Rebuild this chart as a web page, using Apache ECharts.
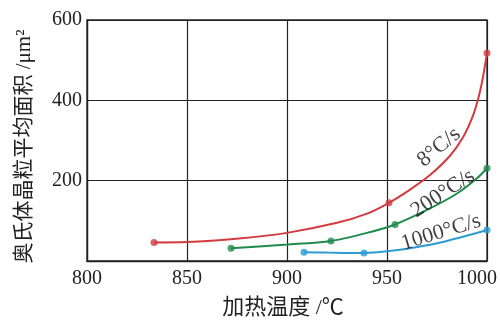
<!DOCTYPE html>
<html>
<head>
<meta charset="utf-8">
<script src="https://cdn.jsdelivr.net/npm/echarts@6/dist/echarts.min.js"></script>
<style>html,body{margin:0;padding:0;background:#fff}#c{width:500px;height:324px}</style>
</head>
<body>
<div id="c"></div>
<script>
// Marked data points (temperature °C, area μm²)
const redTemps = [833.5, 951, 1000];
const redVals = [46, 145, 518];
const greenTemps = [872, 922, 954, 1000];
const greenVals = [32, 50, 91, 231];
const blueTemps = [908.5, 938.5, 1000];
const blueVals = [22, 20, 77];

// Fitted curves
const redCurveT = [833.5, 850, 876, 900, 925, 940, 951, 961, 971.5, 981.5, 988, 993, 996, 998, 1000];
const redCurveV = [46, 47, 56, 70, 95, 118, 145, 176, 214, 262, 308, 362, 412, 458, 518];
const greenCurveT = [872, 900, 922, 940, 954, 971.5, 985, 995, 1000];
const greenCurveV = [32, 41, 50, 70, 91, 131, 168, 206, 231];
const blueCurveT = [908.5, 920, 938.5, 950, 963, 980, 1000];
const blueCurveV = [22, 21, 20, 24, 33, 50, 77];

// Curve labels
const labelTexts = ['8°C/s', '200°C/s', '1000°C/s'];
const labelTemps = [976, 978, 977];
const labelVals = [283, 168, 71];
const labelAngles = [40, 33, 17];

// Axis ticks
const xTicks = [800, 850, 900, 950, 1000];
const yTicks = [0, 200, 400, 600];

const zip = (a, b) => a.map((v, i) => [v, b[i]]);
const RED = '#d13c41', GREEN = '#1f8b4c', BLUE = '#2e9bd2';
const SERIF = '"Liberation Serif", "Noto Sans CJK SC", serif';

function curve(t, v, color) {
  return { type: 'line', data: zip(t, v), smooth: 0.3, showSymbol: false, symbol: 'none',
    lineStyle: { color: color, width: 2 }, z: 3, silent: true };
}
function pts(t, v, color) {
  return { type: 'scatter', data: zip(t, v), symbolSize: 7,
    itemStyle: { color: color }, z: 4, silent: true };
}

const chart = echarts.init(document.getElementById('c'), null, { renderer: 'canvas' });
chart.setOption({
  animation: false,
  backgroundColor: '#fff',
  grid: { left: 87, right: 13, top: 20, bottom: 63, show: true, borderColor: '#222', borderWidth: 1.3, backgroundColor: 'transparent' },
  xAxis: {
    type: 'value', min: xTicks[0], max: xTicks[xTicks.length - 1], interval: 50,
    name: '加热温度 /℃', nameLocation: 'middle', nameGap: 36,
    nameTextStyle: { fontFamily: SERIF, fontSize: 22, color: '#222', padding: [0, 8, 0, 0] },
    axisLine: { show: true, lineStyle: { color: '#222', width: 1.3 } },
    axisTick: { show: false },
    axisLabel: {
      fontFamily: SERIF, fontSize: 20, color: '#222', margin: 8,
      formatter: v => v === 1000 ? '{e|' + v + '}' : String(v),
      rich: { e: { fontFamily: SERIF, fontSize: 20, color: '#222', padding: [0, 20, 0, 0] } }
    },
    splitLine: { show: true, lineStyle: { color: '#222', width: 1.2 } }
  },
  yAxis: {
    type: 'value', min: yTicks[0], max: yTicks[yTicks.length - 1], interval: 200,
    name: '奥氏体晶粒平均面积 /μm²', nameLocation: 'middle', nameGap: 52,
    nameTextStyle: { fontFamily: SERIF, fontSize: 21, color: '#222', padding: [0, 12, 0, 0] },
    axisLine: { show: true, lineStyle: { color: '#222', width: 1.3 } },
    axisTick: { show: false },
    axisLabel: { fontFamily: SERIF, fontSize: 20, color: '#222', margin: 5,
      formatter: v => v === 0 ? '' : String(v) },
    splitLine: { show: true, lineStyle: { color: '#222', width: 1.2 } }
  },
  series: [
    curve(redCurveT, redCurveV, RED),
    curve(greenCurveT, greenCurveV, GREEN),
    curve(blueCurveT, blueCurveV, BLUE),
    pts(redTemps, redVals, RED),
    pts(greenTemps, greenVals, GREEN),
    pts(blueTemps, blueVals, BLUE),
    {
      type: 'scatter', silent: true, z: 5, symbolSize: 1,
      itemStyle: { color: 'rgba(0,0,0,0)' },
      data: labelTexts.map((t, i) => ({
        name: t, value: [labelTemps[i], labelVals[i]],
        label: { show: true, position: 'inside', rotate: labelAngles[i], formatter: t,
          fontFamily: SERIF, fontSize: 22, color: '#111', align: 'center', verticalAlign: 'middle' }
      }))
    }
  ]
});
</script>
</body>
</html>
